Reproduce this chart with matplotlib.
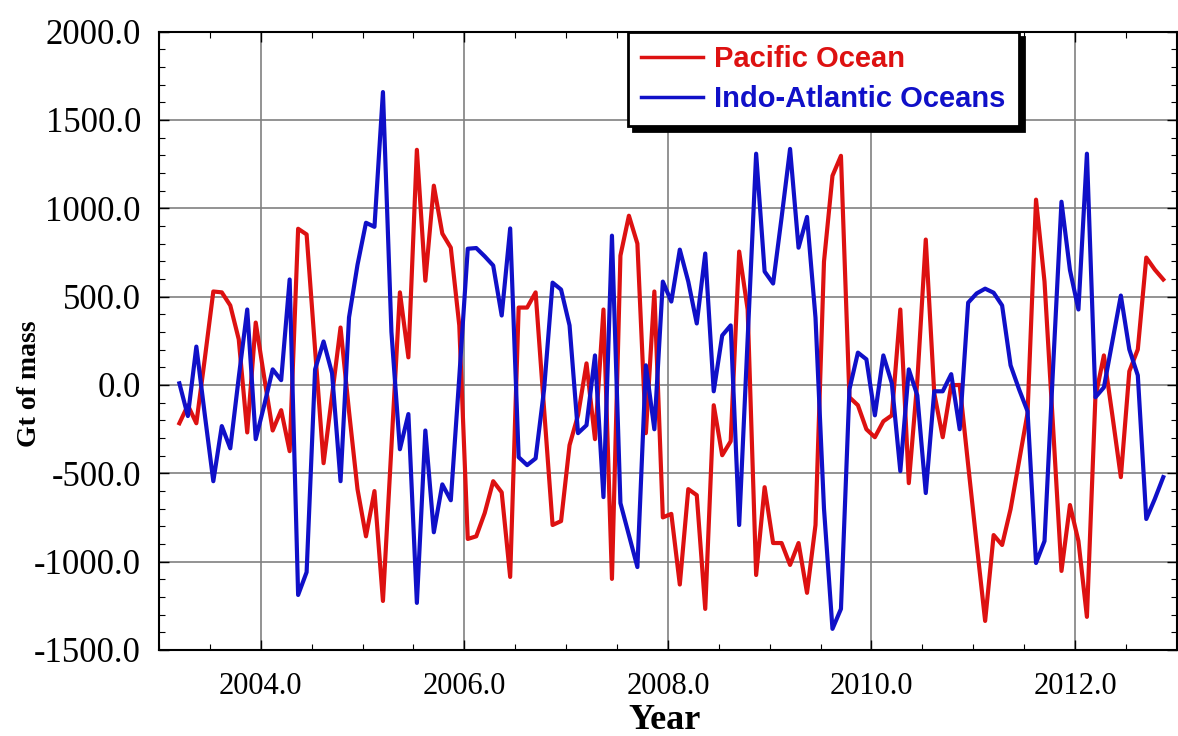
import numpy as np
import matplotlib
matplotlib.use('Agg')
import matplotlib.pyplot as plt
from matplotlib.ticker import MultipleLocator, FormatStrFormatter

# monthly GRACE-style mass anomalies (Gt)
start_year = 2003.20
pacific = [-217, -115, -217, 150, 529, 524, 450, 258, -269, 353, 43, -258,
           -143, -375, 884, 852, 200, -443, -60, 325, -150, -590, -857, -601,
           -1223, -350, 524, 156, 1331, 590, 1128, 857, 777, 337, -872, -857,
           -725, -545, -608, -1087, 438, 438, 524, -138, -793, -771, -341, -172,
           122, -307, 427, -1098, 732, 958, 800, -273, 529, -750, -730, -1130,
           -590, -624, -1268, -115, -398, -319, 755, 427, -1076, -579, -895, -895,
           -1019, -895, -1177, -793, 698, 1184, 1297, -70, -115, -251, -296, -206,
           -172, 427, -556, 20, 823, -47, -296, -2, 0, -454, -900, -1336,
           -850, -906, -703, -432, -160, 1049, 585, -230, -1053, -680, -884, -1313,
           -70, 167, -172, -522, 77, 201, 721, 653, 597]
indo_atlantic = [9, -176, 217, -170, -545, -233, -359, 43, 427, -307, -115, 88,
                 27, 597, -1189, -1060, 88, 246, 66, -545, 382, 680, 918, 895,
                 1658, 300, -364, -165, -1234, -258, -834, -563, -653, 43, 771, 775,
                 728, 676, 393, 886, -409, -454, -416, -25, 579, 540, 337, -273,
                 -228, 167, -635, 845, -669, -850, -1031, 111, -251, 585, 472, 766,
                 585, 348, 744, -36, 280, 337, -793, 260, 1309, 642, 574, 947,
                 1336, 777, 951, 380, -700, -1381, -1268, -25, 183, 145, -172, 167,
                 9, -488, 88, -59, -612, -36, -36, 61, -251, 466, 518, 545,
                 522, 450, 111, -25, -149, -1008, -884, 88, 1037, 650, 427, 1309,
                 -70, -14, 246, 506, 201, 54, -759, -646, -522]
years = start_year + np.arange(len(pacific)) / 12.0

serif = 'Liberation Serif'
sans = 'Liberation Sans'

fig = plt.figure(figsize=(11.78, 7.36), dpi=100)
ax = fig.add_axes([0.135, 0.117, 0.864, 0.840])

ax.plot(years, pacific, color='#dd1111', lw=3.0, label='Pacific Ocean', zorder=3)
ax.plot(years, indo_atlantic, color='#1010c8', lw=3.0, label='Indo-Atlantic Oceans', zorder=3)

ax.set_xlim(2003.0, 2013.0)
ax.set_ylim(-1500, 2000)
ax.xaxis.set_major_locator(MultipleLocator(2))
ax.xaxis.set_minor_locator(MultipleLocator(0.5))
ax.yaxis.set_major_locator(MultipleLocator(500))
ax.yaxis.set_minor_locator(MultipleLocator(100))
ax.xaxis.set_major_formatter(FormatStrFormatter('%.1f'))
ax.yaxis.set_major_formatter(FormatStrFormatter('%.1f'))
ax.tick_params(which='both', direction='in', top=True, right=True)
ax.tick_params(which='major', length=7, width=1)
ax.tick_params(which='minor', length=4, width=0.8)
ax.tick_params(axis='x', which='major', pad=16)
ax.tick_params(axis='y', which='major', pad=13)
for lab in ax.get_xticklabels():
    lab.set_fontfamily(serif)
    lab.set_fontsize(22)
for lab in ax.get_yticklabels():
    lab.set_fontfamily(serif)
    lab.set_fontsize(25)

ax.grid(True, which='major', color='#808080', lw=1.2)
for sp in ax.spines.values():
    sp.set_linewidth(1.5)

ax.set_xlabel('Year', fontfamily=serif, fontweight='bold', fontsize=26)
ax.xaxis.set_label_coords(0.497, -0.088)
ax.set_ylabel('Gt of mass', fontfamily=serif, fontweight='bold', fontsize=20)
ax.yaxis.set_label_coords(-0.115, 0.43)

leg = ax.legend(loc='upper left', bbox_to_anchor=(0.461, 0.999), fancybox=False,
                shadow={'color': 'black', 'alpha': 1, 'ox': 3.5, 'oy': -3.5},
                edgecolor='black', framealpha=1, borderaxespad=0,
                prop={'family': sans, 'weight': 'bold', 'size': 21},
                labelcolor='linecolor', handlelength=2.1, handletextpad=0.4,
                borderpad=0.45, labelspacing=0.4)
leg.get_frame().set_linewidth(2)
for h in leg.get_lines():
    h.set_linewidth(2.5)

fig.savefig('out.png', dpi=100)
